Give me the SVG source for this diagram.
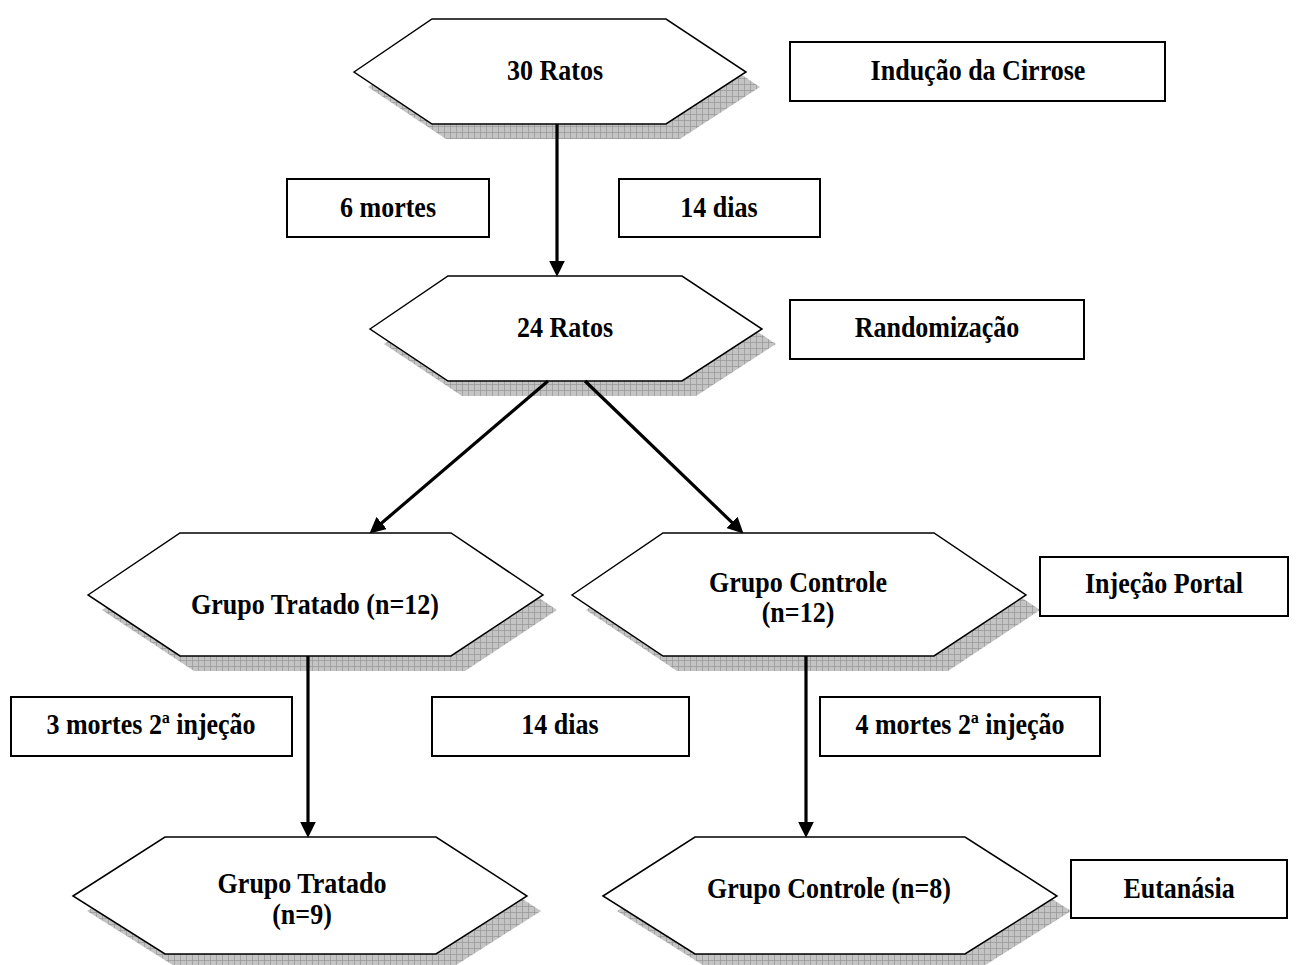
<svg xmlns="http://www.w3.org/2000/svg" width="1297" height="965" viewBox="0 0 1297 965">
<defs>
<pattern id="hatch" width="6" height="6" patternUnits="userSpaceOnUse">
<rect width="6" height="6" fill="#c4c4c4"/>
<path d="M0,0.5 H6 M0.5,0 V6" stroke="#9a9a9a" stroke-width="0.8"/>
</pattern>
<marker id="arrow" markerUnits="userSpaceOnUse" markerWidth="16" markerHeight="16" viewBox="0 0 15 15" refX="5" refY="7.5" orient="auto">
<path d="M0,0 L15,7.5 L0,15 z" fill="#000"/>
</marker>
</defs>
<style>
.shadow{fill:url(#hatch);stroke:none}
.hex{fill:#fff;stroke:#000;stroke-width:1.5}
.box{fill:#fff;stroke:#000;stroke-width:2}
.t{font-family:"Liberation Serif","Times New Roman",serif;font-weight:bold;font-size:26px;text-anchor:middle;fill:#000}
.arr{stroke:#000;stroke-width:3.2;fill:none;marker-end:url(#arrow)}
</style>
<rect width="1297" height="965" fill="#fff"/>

<g id="node-30ratos">
<polygon class="shadow" points="368,87 446,34 680,34 760,87 680,139 446,139"/>
<polygon class="hex" points="354,72 432,19 666,19 746,72 666,124 432,124"/>
<text class="t" transform="matrix(1,0,0,1.1,555,80)">30 Ratos</text>
</g>

<g id="node-inducao">
<rect class="box" x="790" y="42" width="375" height="59"/>
<text class="t" transform="matrix(1,0,0,1.1,978,80)">Indução da Cirrose</text>
</g>

<g id="node-6mortes">
<rect class="box" x="287" y="179" width="202" height="58"/>
<text class="t" transform="matrix(1,0,0,1.1,388,217)">6 mortes</text>
</g>

<g id="node-14dias-1">
<rect class="box" x="619" y="179" width="201" height="58"/>
<text class="t" transform="matrix(1,0,0,1.1,719,217)">14 dias</text>
</g>

<g id="node-24ratos">
<polygon class="shadow" points="384,344 462,291 696,291 776,344 696,396 462,396"/>
<polygon class="hex" points="370,329 448,276 682,276 762,329 682,381 448,381"/>
<text class="t" transform="matrix(1,0,0,1.1,565,337)">24 Ratos</text>
</g>

<g id="node-randomizacao">
<rect class="box" x="790" y="300" width="294" height="59"/>
<text class="t" transform="matrix(1,0,0,1.1,937,337)">Randomização</text>
</g>

<g id="node-tratado12">
<polygon class="shadow" points="102,610 194,548 465,548 557,610 465,671 194,671"/>
<polygon class="hex" points="88,595 180,533 451,533 543,595 451,656 180,656"/>
<text class="t" transform="matrix(1,0,0,1.1,315,614)">Grupo Tratado (n=12)</text>
</g>

<g id="node-controle12">
<polygon class="shadow" points="586,610 677,548 948,548 1040,610 948,671 677,671"/>
<polygon class="hex" points="572,595 663,533 934,533 1026,595 934,656 663,656"/>
<text class="t" transform="matrix(1,0,0,1.1,798,592)">Grupo Controle</text>
<text class="t" transform="matrix(1,0,0,1.1,798,622)">(n=12)</text>
</g>

<g id="node-injecao">
<rect class="box" x="1040" y="557" width="248" height="59"/>
<text class="t" transform="matrix(1,0,0,1.1,1164,593)">Injeção Portal</text>
</g>

<g id="node-3mortes">
<rect class="box" x="11" y="697" width="281" height="59"/>
<text class="t" transform="matrix(1,0,0,1.1,151,734)">3 mortes 2ª injeção</text>
</g>

<g id="node-14dias-2">
<rect class="box" x="432" y="697" width="257" height="59"/>
<text class="t" transform="matrix(1,0,0,1.1,560,734)">14 dias</text>
</g>

<g id="node-4mortes">
<rect class="box" x="820" y="697" width="280" height="59"/>
<text class="t" transform="matrix(1,0,0,1.1,960,734)">4 mortes 2ª injeção</text>
</g>

<g id="node-tratado9">
<polygon class="shadow" points="87,911 179,852 450,852 541,911 450,969 179,969"/>
<polygon class="hex" points="73,896 165,837 436,837 527,896 436,954 165,954"/>
<text class="t" transform="matrix(1,0,0,1.1,302,893)">Grupo Tratado</text>
<text class="t" transform="matrix(1,0,0,1.1,302,924)">(n=9)</text>
</g>

<g id="node-controle8">
<polygon class="shadow" points="617,911 709,852 979,852 1071,911 979,969 709,969"/>
<polygon class="hex" points="603,896 695,837 965,837 1057,896 965,954 695,954"/>
<text class="t" transform="matrix(1,0,0,1.1,829,898)">Grupo Controle (n=8)</text>
</g>

<g id="node-eutanasia">
<rect class="box" x="1071" y="860" width="216" height="58"/>
<text class="t" transform="matrix(1,0,0,1.1,1179,898)">Eutanásia</text>
</g>

<g id="connectors">
<line class="arr" x1="557" y1="124" x2="557" y2="266"/>
<line class="arr" x1="548" y1="381" x2="377.6" y2="526.5"/>
<line class="arr" x1="585" y1="381" x2="735.8" y2="526.1"/>
<line class="arr" x1="308" y1="656" x2="308" y2="827"/>
<line class="arr" x1="806" y1="656" x2="806" y2="827"/>
</g>
</svg>
